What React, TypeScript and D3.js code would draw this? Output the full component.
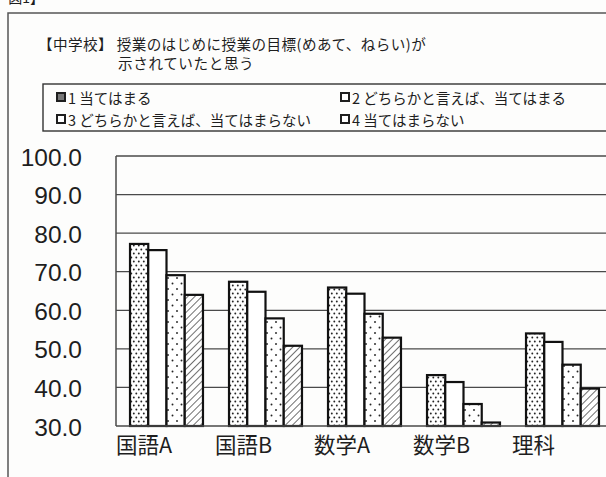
import React from "react";
import * as d3 from "d3";

const categories = ["国語A", "国語B", "数学A", "数学B", "理科"];
const seriesNames = [
  "1 当てはまる",
  "2 どちらかと言えば、当てはまる",
  "3 どちらかと言えば、当てはまらない",
  "4 当てはまらない",
];
const s1 = [77.2, 67.4, 65.9, 43.2, 54.0];
const s2 = [75.6, 64.8, 64.3, 41.4, 51.8];
const s3 = [69.1, 57.9, 59.1, 35.7, 45.9];
const s4 = [64.0, 50.8, 52.9, 30.9, 39.7];
const seriesValues = [s1, s2, s3, s4];
const yTicks = [30, 40, 50, 60, 70, 80, 90, 100];
const titleLine1 = "【中学校】 授業のはじめに授業の目標(めあて、ねらい)が";
const titleLine2 = "示されていたと思う";

const W = 606;
const H = 477;
const JP = "'Noto Sans CJK JP', 'Noto Sans', sans-serif";
const LAT = "'Liberation Sans', Arial, sans-serif";
const INK = "#1e1e1e";
const GRID = "#4a4a4a";

export default function App() {
  const plotLeft = 116;
  const plotTop = 156;
  const plotBottom = 426;
  const step = 99;
  const y = d3.scaleLinear().domain([30, 100]).range([plotBottom, plotTop]);
  const x0 = d3
    .scaleBand<string>()
    .domain(categories)
    .range([117, 117 + step * categories.length])
    .paddingInner(0.263)
    .paddingOuter(0.1315);
  const x1 = d3
    .scaleBand<number>()
    .domain(d3.range(seriesNames.length))
    .range([0, x0.bandwidth()])
    .padding(0);
  const fills = ["url(#dense)", "#ffffff", "url(#sparse)", "url(#hatch)"];

  const legendPos = [
    { x: 57, y: 97 },
    { x: 341, y: 97 },
    { x: 57, y: 119 },
    { x: 341, y: 119 },
  ];

  return (
    <svg
      width={W}
      height={H}
      style={{ position: "absolute", left: 0, top: 0, background: "#fdfdfc" }}
    >
      <defs>
        <pattern id="dense" width="5" height="8" patternUnits="userSpaceOnUse">
          <rect width="5" height="8" fill="#fff" />
          <circle cx="1.3" cy="1.5" r="0.95" fill="#222" />
          <circle cx="3.8" cy="5.5" r="0.95" fill="#222" />
        </pattern>
        <pattern id="sparse" width="9" height="11" patternUnits="userSpaceOnUse">
          <rect width="9" height="11" fill="#fff" />
          <circle cx="2" cy="3" r="0.95" fill="#222" />
          <circle cx="6.5" cy="8.5" r="0.95" fill="#222" />
        </pattern>
        <pattern
          id="hatch"
          width="5"
          height="5"
          patternUnits="userSpaceOnUse"
          patternTransform="rotate(45)"
        >
          <rect width="5" height="5" fill="#fff" />
          <line x1="0" y1="0" x2="0" y2="5" stroke="#222" strokeWidth="1.3" />
        </pattern>
      </defs>

      {/* cut-off caption fragment at very top */}
      <text x={44} y={3} textAnchor="end" fontFamily={JP} fontSize={14} fill={INK}>
        図1】
      </text>

      {/* outer frame */}
      <path d={`M8,${H} V13 H${W}`} fill="none" stroke="#555" strokeWidth={1.5} />

      {/* title */}
      <text x={38} y={50} fontFamily={JP} fontSize={14.6} letterSpacing={0.4} fill={INK}>
        {titleLine1}
      </text>
      <text x={118} y={69} fontFamily={JP} fontSize={14.6} letterSpacing={0.6} fill={INK}>
        {titleLine2}
      </text>

      {/* legend */}
      <rect x={43} y={84} width={620} height={47} fill="none" stroke="#333" strokeWidth={1.4} />
      {seriesNames.map((name, i) => (
        <g key={name}>
          <rect
            x={legendPos[i].x}
            y={legendPos[i].y - 4}
            width={8}
            height={8}
            fill={i === 0 ? "#777" : "#fff"}
            stroke={INK}
            strokeWidth={2}
          />
          <text
            x={legendPos[i].x + 11}
            y={legendPos[i].y}
            dominantBaseline="central"
            fontFamily={JP}
            fontSize={14.5}
            fill={INK}
          >
            {name}
          </text>
        </g>
      ))}

      {/* y axis labels */}
      {yTicks.map((t) => (
        <text
          key={t}
          x={82}
          y={y(t) + 1}
          textAnchor="end"
          dominantBaseline="central"
          fontFamily={LAT}
          fontSize={24.5}
          fill={INK}
        >
          {t.toFixed(1)}
        </text>
      ))}

      {/* gridlines */}
      {yTicks.slice(1).map((t) => (
        <line
          key={t}
          x1={plotLeft}
          x2={W}
          y1={y(t)}
          y2={y(t)}
          stroke={GRID}
          strokeWidth={1.3}
        />
      ))}
      <line x1={plotLeft} x2={plotLeft} y1={plotTop} y2={plotBottom} stroke={GRID} strokeWidth={1.5} />

      {/* bars */}
      {categories.map((c, ci) => (
        <g key={c} transform={`translate(${x0(c)},0)`}>
          {seriesValues.map((vals, si) => (
            <rect
              key={si}
              x={x1(si)}
              y={y(vals[ci])}
              width={x1.bandwidth()}
              height={plotBottom - y(vals[ci])}
              fill={fills[si]}
              stroke="#111"
              strokeWidth={2.2}
            />
          ))}
        </g>
      ))}

      {/* x axis line */}
      <line x1={plotLeft} x2={W} y1={plotBottom} y2={plotBottom} stroke={GRID} strokeWidth={1.5} />

      {/* category labels */}
      {categories.map((c) => (
        <text
          key={c}
          x={(x0(c) as number) - 14}
          y={443}
          dominantBaseline="central"
          fontFamily={JP}
          fontSize={21.5}
          fill={INK}
        >
          {c}
        </text>
      ))}
    </svg>
  );
}
